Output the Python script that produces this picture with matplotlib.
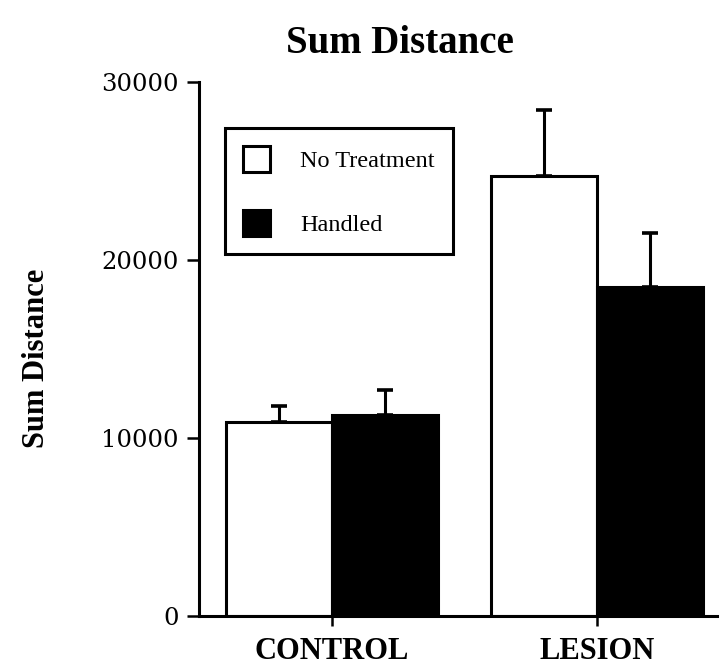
import numpy as np
import matplotlib
matplotlib.use("Agg")
import matplotlib.pyplot as plt

# --- data ---
groups = ["CONTROL", "LESION"]
series = ["No Treatment", "Handled"]
means_no_treatment = [10900, 24700]
means_handled      = [11300, 18500]
sem_no_treatment   = [900, 3700]
sem_handled        = [1400, 3000]
yticks = [0, 10000, 20000, 30000]

plt.rcParams["font.family"] = ["Liberation Serif", "DejaVu Serif"]

W, H = 721, 667
fig = plt.figure(figsize=(W / 100, H / 100), dpi=100, facecolor="white")
ax = fig.add_axes([199 / W, 51 / H, 518 / W, 534 / H])

x = np.arange(len(groups))
bw = 0.40
ax.bar(x - bw / 2, means_no_treatment, bw, color="white", edgecolor="black",
       linewidth=2.2, zorder=2)
ax.bar(x + bw / 2, means_handled, bw, color="black", edgecolor="black",
       linewidth=2.2, zorder=2)

# upper error bars only
err_kw = dict(fmt="none", ecolor="black", elinewidth=2.2, capsize=6, capthick=2.6, zorder=3)
ax.errorbar(x - bw / 2, means_no_treatment,
            yerr=[np.zeros(len(groups)), sem_no_treatment], **err_kw)
ax.errorbar(x + bw / 2, means_handled,
            yerr=[np.zeros(len(groups)), sem_handled], **err_kw)

ax.set_xlim(-0.502, 1.453)
ax.set_ylim(0, 30000)
ax.set_yticks(yticks)
ax.set_yticklabels([str(t) for t in yticks], family="DejaVu Serif", fontsize=17.5)
ax.set_xticks(x)
ax.set_xticklabels(groups, fontsize=22, fontweight="bold")

for side in ["top", "right"]:
    ax.spines[side].set_visible(False)
for side in ["left", "bottom"]:
    ax.spines[side].set_linewidth(2.2)

ax.tick_params(axis="y", length=8.6, width=1.8, pad=6, direction="out")
ax.tick_params(axis="x", length=7, width=1.8, pad=8, direction="out")

# legend box
leg = ax.legend(series, loc="upper left", bbox_to_anchor=(225 / W, 1 - 128 / H),
                bbox_transform=fig.transFigure, borderaxespad=0, fancybox=False,
                framealpha=1, edgecolor="black", fontsize=17.5,
                handlelength=1.1, handleheight=1.25, handletextpad=1.25,
                labelspacing=1.55, borderpad=0.75)
leg.get_frame().set_linewidth(2.2)
for patch in leg.get_patches():
    patch.set_linewidth(2.2)

fig.text(400 / W, 1 - 53 / H, "Sum Distance", ha="center", va="baseline",
         fontsize=28, fontweight="bold")
fig.text(37 / W, 1 - 358 / H, "Sum Distance", ha="center", va="center",
         rotation=90, fontsize=22, fontweight="bold")

fig.savefig("out.png", dpi=100, facecolor="white")
